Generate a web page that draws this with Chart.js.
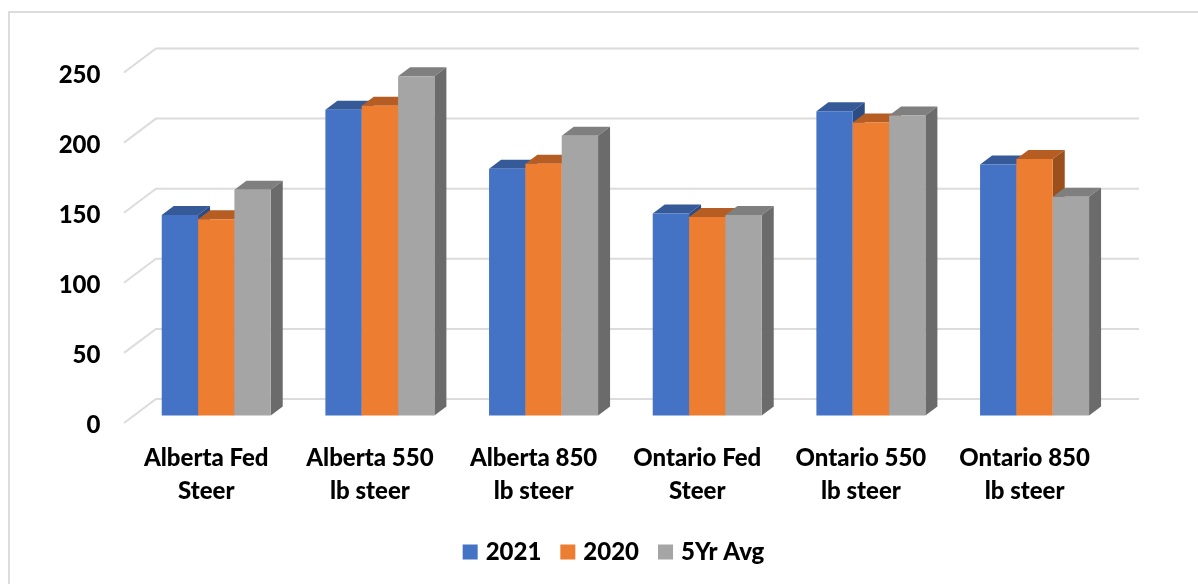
<!DOCTYPE html>
<html>
<head>
<meta charset="utf-8">
<title>Steer prices</title>
<script src="https://cdn.jsdelivr.net/npm/chart.js@4/dist/chart.umd.min.js"></script>
<style>
    html, body { margin: 0; padding: 0; background: #fff; }
    #wrap { position: relative; width: 1198px; height: 584px; overflow: hidden; }
    #frame { position: absolute; left: 8px; top: 11px; right: -4px; bottom: -4px; border: 2px solid #dcdcdc; }
    #chart { position: absolute; left: 0; top: 0; }
</style>
</head>
<body>
<div id="wrap">
    <div id="frame"></div>
    <canvas id="chart" width="1198" height="584"></canvas>
</div>
<script>
const categories = [
    ['Alberta Fed', 'Steer'],
    ['Alberta 550', 'lb steer'],
    ['Alberta 850', 'lb steer'],
    ['Ontario Fed', 'Steer'],
    ['Ontario 550', 'lb steer'],
    ['Ontario 850', 'lb steer']
];
const seriesNames = ['2021', '2020', '5Yr Avg'];
const values2021 = [143, 218, 176, 144, 217, 179];
const values2020 = [140, 221, 179.5, 141.5, 209, 183];
const values5Yr = [161, 242, 199.5, 143, 214, 156];

const frontColors = ['#4472C4', '#ED7D31', '#A5A5A5'];
const topColors = ['#365A98', '#B55D22', '#7F7F7F'];
const sideColors = ['#2C4C84', '#9A4F1D', '#6B6B6B'];

const FONT = { family: 'Lato, "Open Sans", sans-serif', weight: '900', size: 24 };
const GRID_COLOR = '#dcdcdc';

// Glebokosc slupka i sciany tylnej (px)
const BAR_DX = 12, BAR_DY = 9;
const WALL_FRONT_DX = -10.4, WALL_FRONT_DY = 7.5;
const WALL_BACK_DX = 21.6, WALL_BACK_DY = -16.5;
const LEGEND_SHIFT = 57.3;

function drawFace(ctx, color, pts) {
    ctx.fillStyle = color;
    ctx.beginPath();
    pts.forEach((p, i) => i ? ctx.lineTo(p[0], p[1]) : ctx.moveTo(p[0], p[1]));
    ctx.closePath();
    ctx.fill();
}

// Sciana tylna: linie siatki liczone ze skali y
function drawWall(chart) {
    const { ctx, scales: { x, y } } = chart;
    ctx.save();
    ctx.strokeStyle = GRID_COLOR;
    ctx.lineWidth = 2;
    y.ticks.forEach(t => {
        const py = y.getPixelForValue(t.value);
        ctx.beginPath();
        ctx.moveTo(x.left + WALL_FRONT_DX, py + WALL_FRONT_DY);
        ctx.lineTo(x.left + WALL_BACK_DX, py + WALL_BACK_DY);
        ctx.lineTo(x.right + WALL_BACK_DX + 1, py + WALL_BACK_DY);
        ctx.stroke();
    });
    ctx.restore();
}

// Slupki 3D: malowane od lewej do prawej, przod rysuje sam Chart.js
const bars3d = {
    id: 'bars3d',
    // legenda w oryginale nie jest wysrodkowana wzgledem wykresu
    afterLayout(chart) {
        chart.legend.left += LEGEND_SHIFT;
        chart.legend.right += LEGEND_SHIFT;
    },
    beforeDatasetsDraw(chart) {
        const ctx = chart.ctx;
        drawWall(chart);
        categories.forEach((c, i) => {
            chart.data.datasets.forEach((ds, d) => {
                const bar = chart.getDatasetMeta(d).data[i];
                const { x, y, base, width } = bar.getProps(['x', 'y', 'base', 'width']);
                const l = x - width / 2, r = x + width / 2;
                drawFace(ctx, topColors[d], [[l, y], [l + BAR_DX, y - BAR_DY], [r + BAR_DX, y - BAR_DY], [r, y]]);
                drawFace(ctx, sideColors[d], [[r, y], [r + BAR_DX, y - BAR_DY], [r + BAR_DX, base - BAR_DY], [r, base]]);
                bar.draw(ctx, chart.chartArea);
            });
        });
        return false;
    }
};

new Chart(document.getElementById('chart'), {
    type: 'bar',
    data: {
        labels: categories,
        datasets: [values2021, values2020, values5Yr].map((data, i) => ({
            label: seriesNames[i],
            data,
            backgroundColor: frontColors[i],
            borderWidth: 0,
            barPercentage: 1,
            categoryPercentage: 0.666
        }))
    },
    options: {
        responsive: false,
        animation: false,
        devicePixelRatio: 1,
        layout: { padding: { left: 0, right: 81.6, top: 65, bottom: 10 } },
        scales: {
            x: {
                grid: { display: false },
                border: { display: false },
                afterFit: s => { s.height = 101.5; },
                ticks: {
                    color: '#000',
                    font: { ...FONT, lineHeight: 1.375 },
                    maxRotation: 0,
                    autoSkip: false,
                    padding: 18.5,
                    labelOffset: -10
                }
            },
            y: {
                min: 0,
                max: 250,
                grid: { display: false, drawTicks: false },
                border: { display: false },
                afterFit: s => { s.width = 134.4; },
                ticks: {
                    stepSize: 50,
                    color: '#000',
                    font: FONT,
                    padding: 34,
                    labelOffset: 10
                }
            }
        },
        plugins: {
            tooltip: { enabled: false },
            legend: {
                position: 'bottom',
                labels: {
                    color: '#000',
                    font: FONT,
                    boxWidth: 7,
                    boxHeight: 7,
                    padding: 23,
                    // gruby obrys daje kwadrat 15px blizej tekstu
                    generateLabels: chart => chart.data.datasets.map((ds, i) => ({
                        text: ds.label,
                        fillStyle: frontColors[i],
                        strokeStyle: frontColors[i],
                        lineWidth: 8,
                        datasetIndex: i
                    }))
                }
            }
        }
    },
    plugins: [bars3d]
});
</script>
</body>
</html>
